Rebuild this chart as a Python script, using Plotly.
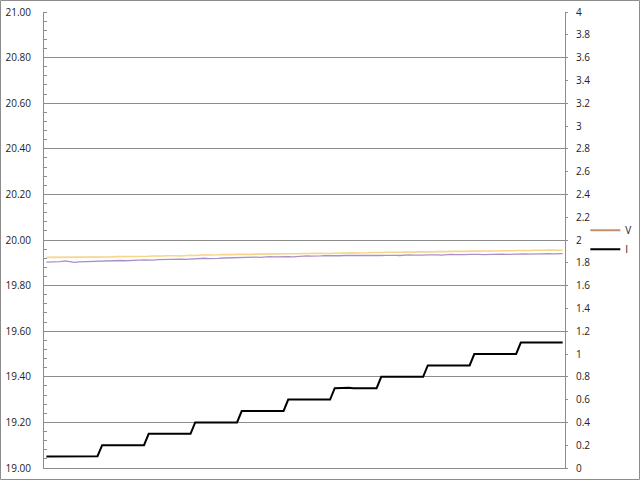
import plotly.graph_objects as go

# Sample index (category axis, no labels shown)
samples = list(range(1, 113))

# Voltage traces (left axis)
v_upper = [
    19.924, 19.924, 19.923, 19.924, 19.925, 19.924, 19.924, 19.925, 19.925, 19.924,
    19.925, 19.926, 19.926, 19.925, 19.926, 19.927, 19.927, 19.926, 19.927, 19.928,
    19.929, 19.928, 19.929, 19.930, 19.929, 19.930, 19.931, 19.932, 19.931, 19.930,
    19.932, 19.933, 19.932, 19.934, 19.935, 19.934, 19.933, 19.935, 19.936, 19.935,
    19.936, 19.937, 19.936, 19.935, 19.937, 19.938, 19.937, 19.938, 19.939, 19.938,
    19.939, 19.940, 19.939, 19.938, 19.940, 19.941, 19.940, 19.941, 19.942, 19.941,
    19.940, 19.941, 19.942, 19.943, 19.942, 19.943, 19.944, 19.943, 19.942, 19.944,
    19.945, 19.944, 19.945, 19.946, 19.945, 19.944, 19.946, 19.947, 19.946, 19.947,
    19.948, 19.947, 19.946, 19.948, 19.949, 19.948, 19.949, 19.950, 19.949, 19.948,
    19.950, 19.951, 19.950, 19.951, 19.952, 19.951, 19.950, 19.952, 19.953, 19.952,
    19.953, 19.954, 19.953, 19.952, 19.954, 19.955, 19.954, 19.955, 19.956, 19.955,
    19.955, 19.955,
]
v_lower = [
    19.903, 19.903, 19.904, 19.905, 19.908, 19.906, 19.902, 19.904, 19.905, 19.906,
    19.907, 19.906, 19.908, 19.908, 19.909, 19.910, 19.910, 19.909, 19.911, 19.912,
    19.912, 19.913, 19.911, 19.912, 19.914, 19.915, 19.914, 19.916, 19.917, 19.916,
    19.915, 19.917, 19.918, 19.919, 19.920, 19.918, 19.917, 19.919, 19.921, 19.922,
    19.923, 19.922, 19.924, 19.925, 19.926, 19.925, 19.924, 19.926, 19.927, 19.926,
    19.927, 19.928, 19.927, 19.926, 19.928, 19.929, 19.930, 19.929, 19.928, 19.930,
    19.931, 19.930, 19.929, 19.931, 19.932, 19.931, 19.930, 19.932, 19.933, 19.932,
    19.931, 19.930, 19.932, 19.933, 19.934, 19.933, 19.932, 19.934, 19.935, 19.934,
    19.933, 19.934, 19.935, 19.936, 19.935, 19.934, 19.936, 19.937, 19.936, 19.935,
    19.936, 19.937, 19.938, 19.937, 19.936, 19.937, 19.938, 19.939, 19.938, 19.937,
    19.938, 19.939, 19.940, 19.939, 19.938, 19.939, 19.940, 19.941, 19.940, 19.939,
    19.940, 19.940,
]

# Current (right axis)
current = [
    0.100, 0.100, 0.100, 0.102, 0.103, 0.103, 0.103, 0.103, 0.103, 0.103, 0.103, 0.103,
    0.200, 0.200, 0.200, 0.200, 0.200, 0.200, 0.200, 0.200, 0.200, 0.200,
    0.300, 0.300, 0.300, 0.300, 0.300, 0.300, 0.300, 0.300, 0.300, 0.300,
    0.400, 0.400, 0.400, 0.400, 0.400, 0.400, 0.400, 0.400, 0.400, 0.400,
    0.500, 0.500, 0.500, 0.500, 0.500, 0.500, 0.500, 0.500, 0.500, 0.500,
    0.600, 0.600, 0.600, 0.600, 0.600, 0.600, 0.600, 0.600, 0.600, 0.600,
    0.700, 0.703, 0.703, 0.703, 0.700, 0.700, 0.700, 0.700, 0.700, 0.700,
    0.800, 0.800, 0.800, 0.800, 0.800, 0.800, 0.800, 0.800, 0.800, 0.800,
    0.900, 0.900, 0.900, 0.900, 0.900, 0.900, 0.900, 0.900, 0.900, 0.900,
    1.000, 1.000, 1.000, 1.000, 1.000, 1.000, 1.000, 1.000, 1.000, 1.000,
    1.100, 1.100, 1.100, 1.100, 1.100, 1.100, 1.100, 1.100, 1.100, 1.100,
]

left_ticks = [19.0 + 0.2 * k for k in range(11)]
right_ticks = [round(0.2 * k, 1) for k in range(21)]
right_labels = [("%g" % t) for t in right_ticks]

GRID = "#8c8c8c"
FONT = dict(family="Open Sans, Liberation Sans, sans-serif", size=10, color="#222222")

fig = go.Figure()
fig.add_trace(go.Scatter(x=samples, y=v_upper, mode="lines",
                         line=dict(color="#f7d58a", width=1.6), showlegend=False,
                         hoverinfo="skip"))
fig.add_trace(go.Scatter(x=samples, y=v_lower, mode="lines",
                         line=dict(color="#a891c8", width=1.3), showlegend=False,
                         hoverinfo="skip"))
# legend entry for V
fig.add_trace(go.Scatter(x=[None], y=[None], mode="lines", name="V",
                         line=dict(color="#c0906e", width=2)))
fig.add_trace(go.Scatter(x=samples, y=current, mode="lines", name="I", yaxis="y2",
                         line=dict(color="#000000", width=2)))

fig.update_layout(
    width=640, height=481,
    margin=dict(l=44, r=75, t=12, b=13, autoexpand=False),
    paper_bgcolor="white", plot_bgcolor="white",
    font=FONT,
    hovermode=False,
    xaxis=dict(range=[0.5, 112.5], showticklabels=False, ticks="", showgrid=False,
               zeroline=False, showline=True, linecolor=GRID, linewidth=1,
               automargin=False),
    yaxis=dict(range=[19.0, 21.0], tickvals=left_ticks,
               ticktext=["%.2f" % t for t in left_ticks],
               showgrid=True, gridcolor=GRID, gridwidth=1, zeroline=False,
               showline=True, linecolor=GRID, linewidth=1, ticks="",
               ticklabelstandoff=10, automargin=False,
               minor=dict(dtick=0.04, ticks="inside", ticklen=3, tickcolor=GRID,
                          showgrid=False)),
    yaxis2=dict(range=[0, 4], overlaying="y", side="right", tickvals=right_ticks,
                ticktext=right_labels, showgrid=False, zeroline=False,
                showline=True, linecolor=GRID, linewidth=1, ticks="outside",
                ticklen=2, tickcolor=GRID, ticklabelstandoff=6, automargin=False),
    legend=dict(x=1.039, y=0.553, xanchor="left", yanchor="top",
                bgcolor="rgba(0,0,0,0)", font=dict(size=10, color="#222222"),
                itemwidth=30, tracegroupgap=2),
    shapes=[dict(type="rect", xref="paper", yref="paper",
                 x0=-43.5 / 521, x1=595.5 / 521, y0=-11.5 / 456, y1=467.5 / 456,
                 line=dict(color=GRID, width=1), fillcolor="rgba(0,0,0,0)")],
)

fig.write_html("out.html", config={"displayModeBar": False},
               post_script="document.body.style.margin='0';document.body.style.padding='0';")
